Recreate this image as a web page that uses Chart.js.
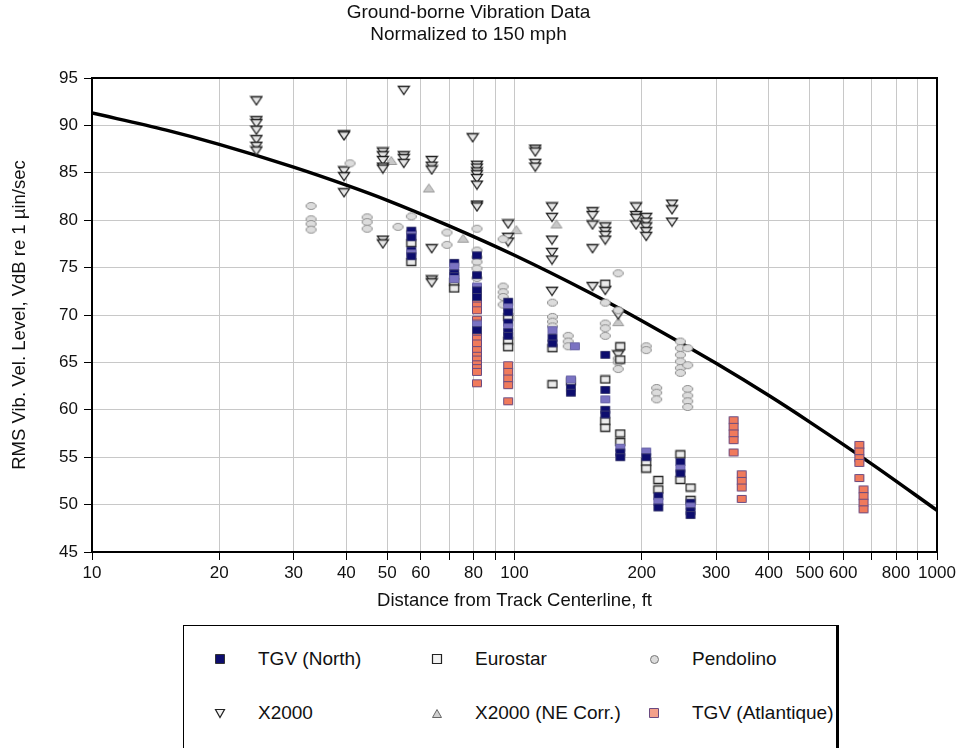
<!DOCTYPE html>
<html lang="en">
<head>
<meta charset="UTF-8">
<title>Ground-borne Vibration Data</title>
<script src="https://cdn.jsdelivr.net/npm/chart.js@4.4.1/dist/chart.umd.min.js"></script>
<style>
    body {
        margin: 0;
        background: #fff;
        font-family: Arial, "Liberation Sans", sans-serif;
        overflow: hidden;
    }
    .wrap {
        position: relative;
        width: 964px;
        height: 748px;
    }
    #legend {
        position: absolute;
        left: 183px;
        top: 625px;
        width: 656px;
        height: 140px;
        border: 1px solid #000;
        border-right: 3px solid #000;
        box-sizing: border-box;
        background: #fff;
    }
    .item {
        position: absolute;
        font-size: 19px;
        line-height: 22px;
        color: #111;
        white-space: nowrap;
    }
    .item canvas {
        position: absolute;
    }
</style>
</head>
<body>
<div class="wrap">
    <canvas id="chart" width="964" height="748"></canvas>
    <div id="legend"></div>
</div>
<script>
// values: [distance ft, VdB]
const titleLines = ['Ground-borne Vibration Data', 'Normalized to 150 mph'];
const xGridValues = [10, 20, 30, 40, 50, 60, 70, 80, 90, 100, 200, 300, 400, 500, 600, 700, 800, 900, 1000];
const xTickLabels = [10, 20, 30, 40, 50, 60, 80, 100, 200, 300, 400, 500, 600, 800, 1000];

const curveDist = [10, 15, 20, 30, 40, 50, 70, 100, 150, 200, 300, 400, 500, 700, 1000];
const curveLevel = [91.3, 89.5, 88.0, 85.6, 83.7, 82.1, 79.4, 76.3, 72.4, 69.4, 64.9, 61.5, 58.7, 54.3, 49.4];

const tgvNorth = [
    [57, 78.9], [57, 78.4], [57, 78.2], [57, 76.8], [57, 76.5], [57, 76.2],
    [72, 75.5], [72, 75.1], [72, 74.4], [72, 74.1], [72, 73.8],
    [81.5, 76.3], [81.5, 74.2], [81.5, 73.0], [81.5, 72.6], [81.5, 71.9], [81.5, 69.0], [81.5, 68.4],
    [96.6, 71.4], [96.6, 70.8], [96.6, 70.3], [96.6, 69.2], [96.6, 68.7], [96.6, 68.2], [96.6, 67.8],
    [123, 68.4], [123, 67.6], [123, 67.0],
    [136, 63.2], [136, 62.3], [136, 61.8], [139, 66.7],
    [164, 65.8], [164, 62.1], [164, 61.1], [164, 60.0], [164, 59.5],
    [178, 56.0], [178, 55.5], [178, 55.0],
    [205, 55.6], [205, 55.0],
    [219, 50.9], [219, 50.3], [219, 49.7],
    [247, 54.5], [247, 53.8], [247, 53.3],
    [261, 50.2], [261, 49.8], [261, 49.3], [261, 48.9]
];
const eurostar = [
    [57, 77.6], [57, 75.6],
    [72, 73.5], [72, 72.8],
    [96.6, 69.8], [96.6, 67.3], [96.6, 66.6],
    [123, 66.5], [123, 62.7], [136, 63.0],
    [164, 73.3], [164, 63.2], [164, 58.8], [164, 58.1],
    [178, 66.7], [178, 65.3], [178, 57.5], [178, 56.6],
    [205, 54.5], [205, 53.8],
    [219, 52.6], [219, 51.6],
    [247, 55.3], [247, 52.6],
    [261, 51.8], [261, 50.5]
];
const pendolino = [
    [33, 81.5], [33, 80.1], [33, 79.6], [33, 79.0],
    [40.8, 86.0],
    [44.8, 80.3], [44.8, 79.8], [44.8, 79.1],
    [53, 79.3], [57, 80.4], [57, 78.8],
    [69.2, 78.7], [69.2, 77.4],
    [81.5, 79.1], [81.5, 76.8], [81.5, 76.1], [81.5, 75.6], [81.5, 74.9], [81.5, 73.9],
    [94, 78.0], [94, 73.0], [94, 72.4], [94, 71.9], [94, 71.1],
    [123, 71.3], [123, 69.8], [123, 69.3], [123, 68.8],
    [134, 67.8], [134, 67.2], [134, 66.7],
    [164, 71.3], [164, 69.1], [164, 68.6], [164, 67.8],
    [176, 74.4], [176, 70.5], [176, 65.4], [176, 65.0], [176, 64.3],
    [205, 66.7], [205, 66.3],
    [217, 62.3], [217, 61.8], [217, 61.1],
    [247, 67.2], [247, 66.5], [247, 65.8], [247, 65.1], [247, 64.4], [247, 63.9],
    [257, 66.5], [257, 64.7], [257, 62.2], [257, 61.5], [257, 60.9], [257, 60.3]
];
const x2000 = [
    [24.5, 92.6], [24.5, 90.5], [24.5, 90.2], [24.5, 89.5], [24.5, 88.5], [24.5, 87.8], [24.5, 87.3],
    [39.5, 89.0], [39.5, 88.9], [39.5, 85.2], [39.5, 84.6], [39.5, 82.9],
    [48.8, 87.2], [48.8, 86.8], [48.8, 86.3], [48.8, 85.6], [48.8, 85.4], [48.8, 77.9], [48.8, 77.5],
    [54.7, 93.7], [54.7, 86.8], [54.7, 86.5], [54.7, 86.0],
    [63.7, 86.3], [63.7, 85.7], [63.7, 85.3], [63.7, 77.0], [63.7, 73.7], [63.7, 73.4],
    [79.6, 88.7],
    [81.5, 85.8], [81.5, 85.5], [81.5, 85.1], [81.5, 84.8], [81.5, 84.4], [81.5, 83.7], [81.5, 81.6], [81.5, 81.4],
    [96.6, 79.6], [96.6, 78.2], [96.6, 77.7],
    [112, 87.5], [112, 87.2], [112, 86.0], [112, 85.6],
    [122.7, 81.4], [122.7, 80.3], [122.7, 77.9], [122.7, 76.6], [122.7, 75.8], [122.7, 72.5],
    [153, 80.9], [153, 80.5], [153, 79.5], [153, 77.0], [153, 73.0],
    [164, 79.3], [164, 78.8], [164, 78.4], [164, 77.9], [164, 72.6],
    [176, 70.0], [176, 65.8],
    [194, 81.4], [194, 80.5], [194, 80.2], [194, 79.5],
    [205, 80.3], [205, 79.8], [205, 79.3], [205, 78.8], [205, 78.3],
    [236, 81.7], [236, 81.1], [236, 79.8]
];
const x2000NE = [
    [51.1, 86.3], [62.7, 83.4], [75.6, 78.1], [101, 79.0], [125.7, 79.6], [176, 69.3]
];
const tgvAtlantique = [
    [81.5, 71.6], [81.5, 71.0], [81.5, 70.5], [81.5, 69.5], [81.5, 69.1], [81.5, 68.1], [81.5, 67.5],
    [81.5, 67.0], [81.5, 66.3], [81.5, 65.7], [81.5, 65.3], [81.5, 64.8], [81.5, 64.4], [81.5, 64.0], [81.5, 62.8],
    [96.6, 64.7], [96.6, 64.0], [96.6, 63.3], [96.6, 62.6], [96.6, 60.9],
    [330, 58.9], [330, 58.2], [330, 57.5], [330, 56.8], [330, 55.5],
    [345, 53.2], [345, 52.5], [345, 51.8], [345, 50.6],
    [655, 56.3], [655, 55.6], [655, 54.9], [655, 54.4], [655, 52.8],
    [670, 51.6], [670, 50.9], [670, 50.2], [670, 49.5]
];

// small canvases used as point styles
function makeMarker(kind, w, h, fill, stroke, lw) {
    const c = document.createElement('canvas');
    c.width = w + 2;
    c.height = h + 2;
    const g = c.getContext('2d');
    g.fillStyle = fill;
    g.strokeStyle = stroke;
    g.lineWidth = lw;
    g.beginPath();
    if (kind === 'square') {
        g.rect(1.5, 1.5, w - 1, h - 1);
    } else if (kind === 'ellipse') {
        g.ellipse(c.width / 2, c.height / 2, w / 2 - 0.5, h / 2 - 0.5, 0, 0, Math.PI * 2);
    } else if (kind === 'down') {
        g.moveTo(1.5, 1.5);
        g.lineTo(w + 0.5, 1.5);
        g.lineTo(c.width / 2, h + 0.5);
        g.closePath();
    } else {
        g.moveTo(c.width / 2, 1.5);
        g.lineTo(w + 0.5, h + 0.5);
        g.lineTo(1.5, h + 0.5);
        g.closePath();
    }
    g.fill();
    g.stroke();
    return c;
}

const navyDark = makeMarker('square', 10, 8, '#0d0d6e', '#3a3a70', 1);
const navyLight = makeMarker('square', 10, 8, '#7a72c2', '#6a66a8', 1);
const whiteSq = makeMarker('square', 10, 8, '#ececec', '#2a2a2a', 1.3);
const ellipse = makeMarker('ellipse', 11, 8, '#dcdcdc', '#8a8a8a', 1);
const downTri = makeMarker('down', 12, 9, '#e6e6e6', '#222', 1.3);
const upTri = makeMarker('up', 12, 9, '#c8c8c8', '#9a9a9a', 1);
const salmonSq = makeMarker('square', 10, 8, '#f07a5c', '#6a4a80', 1);

const toPoints = arr => arr.map(([x, y]) => ({x: x, y: y}));

const series = [
    {label: 'TGV (North)', data: tgvNorth, style: ctx => (ctx.dataIndex % 3 === 1 ? navyLight : navyDark),
        legend: makeMarker('square', 10, 10, '#0d0d6e', '#333', 1)},
    {label: 'Eurostar', data: eurostar, style: whiteSq, legend: makeMarker('square', 10, 10, '#f2f2f2', '#222', 1.2)},
    {label: 'Pendolino', data: pendolino, style: ellipse, legend: makeMarker('ellipse', 9, 9, '#dcdcdc', '#777', 1)},
    {label: 'X2000', data: x2000, style: downTri, legend: makeMarker('down', 10, 9, '#f2f2f2', '#222', 1.2)},
    {label: 'X2000 (NE Corr.)', data: x2000NE, style: upTri, legend: makeMarker('up', 10, 9, '#d0d0d0', '#666', 1)},
    {label: 'TGV (Atlantique)', data: tgvAtlantique, style: salmonSq, legend: makeMarker('square', 10, 10, '#f4a08a', '#6a4a80', 1)}
];

const datasets = series.map(s => ({
    type: 'scatter',
    label: s.label,
    data: toPoints(s.data),
    pointStyle: s.style,
    pointRadius: 5,
    showLine: false
}));

datasets.push({
    type: 'line',
    label: 'curve',
    data: curveDist.map((d, i) => ({x: d, y: curveLevel[i]})),
    borderColor: '#000',
    borderWidth: 3.5,
    pointRadius: 0,
    cubicInterpolationMode: 'monotone',
    fill: false
});

// black frame round the plot area
const framePlugin = {
    id: 'frame',
    afterDraw(chart) {
        const {ctx, chartArea: a} = chart;
        ctx.save();
        ctx.strokeStyle = '#000';
        ctx.lineWidth = 2;
        ctx.strokeRect(a.left, a.top, a.right - a.left, a.bottom - a.top);
        ctx.restore();
    }
};

const fontFamily = 'Arial, "Liberation Sans", sans-serif';
const tickFont = {family: fontFamily, size: 17};
const titleFont = {family: fontFamily, size: 18.5};

new Chart(document.getElementById('chart'), {
    data: {datasets: datasets},
    options: {
        responsive: false,
        animation: false,
        layout: {padding: {left: 0, right: 27, top: 0, bottom: 133}},
        plugins: {
            legend: {display: false},
            tooltip: {enabled: false},
            title: {
                display: true,
                text: titleLines,
                color: '#111',
                font: {family: fontFamily, size: 19, weight: 'normal', lineHeight: 1.15},
                padding: {top: 2, bottom: 32.3}
            }
        },
        scales: {
            x: {
                type: 'logarithmic',
                min: 10,
                max: 1000,
                afterFit: s => { s.height = 63; },
                afterBuildTicks: s => { s.ticks = xGridValues.map(v => ({value: v})); },
                ticks: {
                    autoSkip: false,
                    maxRotation: 0,
                    color: '#111',
                    font: tickFont,
                    padding: 3,
                    callback: v => (xTickLabels.includes(v) ? String(v) : '')
                },
                grid: {color: '#c8c8c8', tickColor: '#000', tickLength: 8},
                border: {color: '#000', width: 2},
                title: {
                    display: true,
                    text: 'Distance from Track Centerline, ft',
                    color: '#111',
                    font: titleFont,
                    padding: {top: 3, bottom: 3}
                }
            },
            y: {
                min: 45,
                max: 95,
                afterFit: s => { s.width = 92; },
                ticks: {stepSize: 5, color: '#111', font: tickFont, padding: 6},
                grid: {color: '#c8c8c8', tickColor: '#000', tickLength: 8},
                border: {color: '#000', width: 2},
                title: {
                    display: true,
                    text: 'RMS Vib. Vel. Level, VdB re 1 \u00b5in/sec',
                    color: '#111',
                    font: titleFont,
                    padding: {top: 9, bottom: 4}
                }
            }
        }
    },
    plugins: [framePlugin]
});

// legend box drawn as html below the plot; text left edges, marker centres relative to the box
const legendTextPos = [
    [74, 22], [291, 22], [508, 22],
    [74, 76], [291, 76], [508, 76]
];
const legendBox = document.getElementById('legend');
series.forEach((s, i) => {
    const item = document.createElement('div');
    item.className = 'item';
    item.style.left = legendTextPos[i][0] + 'px';
    item.style.top = legendTextPos[i][1] + 'px';
    const m = s.legend;
    m.style.left = (-38 - m.width / 2) + 'px';
    m.style.top = (11 - m.height / 2) + 'px';
    item.appendChild(m);
    item.appendChild(document.createTextNode(s.label));
    legendBox.appendChild(item);
});
</script>
</body>
</html>
